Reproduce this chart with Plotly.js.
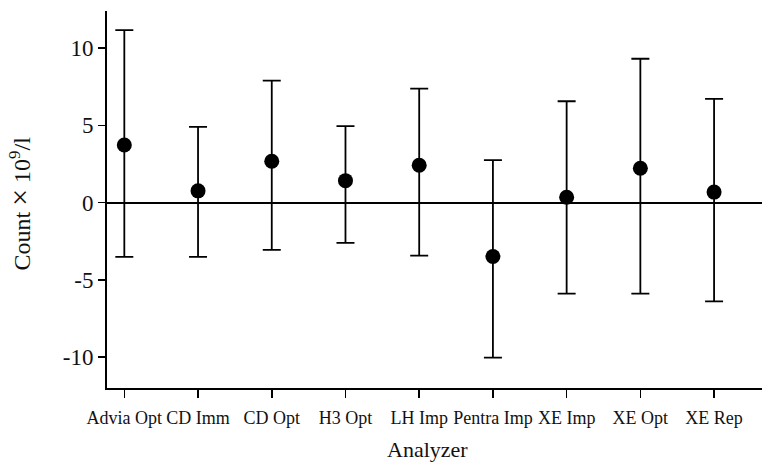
<!DOCTYPE html>
<html>
<head>
<meta charset="utf-8">
<script src="https://cdn.plot.ly/plotly-3.0.1.min.js"></script>
<style>html,body{margin:0;padding:0;background:#fff;}#chart{width:762px;height:462px;}</style>
</head>
<body>
<div id="chart"></div>
<script>
const analyzers = ["Advia Opt", "CD Imm", "CD Opt", "H3 Opt", "LH Imp", "Pentra Imp", "XE Imp", "XE Opt", "XE Rep"];
const meanValues = [3.73, 0.76, 2.68, 1.42, 2.42, -3.49, 0.35, 2.22, 0.68];
const upperLimits = [11.16, 4.9, 7.9, 4.95, 7.37, 2.75, 6.56, 9.31, 6.71];
const lowerLimits = [-3.51, -3.51, -3.06, -2.61, -3.43, -10.03, -5.89, -5.89, -6.39];
const yTickValues = [-10, -5, 0, 5, 10];

const errPlus = upperLimits.map((u, i) => u - meanValues[i]);
const errMinus = lowerLimits.map((l, i) => meanValues[i] - l);
const serif = "Liberation Serif, Times New Roman, serif";

const trace = {
  type: "scatter",
  mode: "markers",
  x: analyzers,
  y: meanValues,
  marker: {color: "#000", size: 15},
  error_y: {
    type: "data",
    symmetric: false,
    array: errPlus,
    arrayminus: errMinus,
    color: "#000",
    thickness: 1.8,
    width: 9
  },
  hoverinfo: "x+y"
};

const layout = {
  width: 762,
  height: 462,
  margin: {l: 107, r: 0, t: 11, b: 74},
  paper_bgcolor: "#fff",
  plot_bgcolor: "#fff",
  showlegend: false,
  font: {family: serif, color: "#111"},
  xaxis: {
    type: "category",
    range: [-0.235, 8.65],
    showgrid: false,
    zeroline: false,
    showline: true,
    linecolor: "#000",
    linewidth: 2,
    ticks: "outside",
    ticklen: 8,
    tickwidth: 1.5,
    tickcolor: "#000",
    tickangle: 0,
    ticklabelstandoff: 4,
    tickfont: {family: serif, size: 18, color: "#111"}
  },
  yaxis: {
    range: [-12, 12.4],
    tickvals: yTickValues,
    ticktext: yTickValues.map(String),
    showgrid: false,
    zeroline: true,
    zerolinecolor: "#000",
    zerolinewidth: 2,
    showline: true,
    linecolor: "#000",
    linewidth: 2,
    ticks: "outside",
    ticklen: 7,
    tickwidth: 1.5,
    tickcolor: "#000",
    tickfont: {family: serif, size: 23, color: "#111"}
  },
  annotations: [{
    text: "Count <span style=\"font-size:30px\">\u00d7</span> 10<sup>9</sup>/l",
    xref: "paper", yref: "paper",
    x: -0.134, y: 0.49,
    xanchor: "center", yanchor: "middle",
    textangle: -90,
    showarrow: false,
    font: {family: serif, size: 24, color: "#111"}
  }, {
    text: "Analyzer",
    xref: "paper", yref: "paper",
    x: 0.49, y: 0,
    xanchor: "center", yanchor: "top",
    yshift: -47,
    showarrow: false,
    font: {family: serif, size: 22, color: "#111"}
  }]
};

Plotly.newPlot("chart", [trace], layout, {displayModeBar: false, staticPlot: true});
</script>
</body>
</html>
